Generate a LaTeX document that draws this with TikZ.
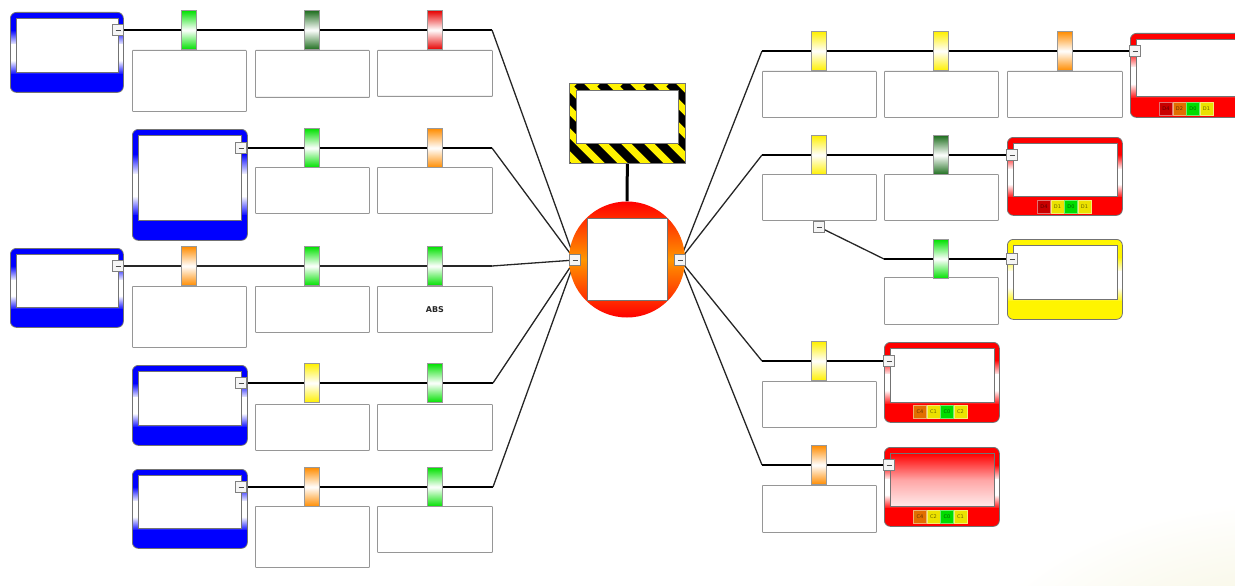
\documentclass[tikz,border=0pt]{standalone}
\usepackage{fontspec}
\usetikzlibrary{calc}
\newfontfamily\dejavu{DejaVu Sans}
\definecolor{bblue}{RGB}{0,0,255}
\definecolor{rred}{RGB}{255,0,0}
\definecolor{yyel}{RGB}{255,245,0}
\definecolor{tgreen}{RGB}{0,225,0}
\definecolor{tdgreen}{RGB}{30,110,30}
\definecolor{tred}{RGB}{230,0,0}
\definecolor{torange}{RGB}{255,140,0}
\definecolor{tyellow}{RGB}{255,240,0}
\definecolor{hubor}{RGB}{255,150,0}
\definecolor{frm}{RGB}{115,115,115}
\definecolor{lblgray}{RGB}{150,150,150}
\definecolor{glowc}{RGB}{243,241,212}
\definecolor{bdred}{RGB}{200,0,0}
\definecolor{bdor}{RGB}{225,110,0}
\definecolor{bdgr}{RGB}{0,220,0}
\definecolor{bdye}{RGB}{235,225,0}
\pgfdeclarelayer{glowl}
\pgfdeclarelayer{wires}
\pgfsetlayers{glowl,wires,main}
\tikzset{
  fbox/.style={draw=frm, line width=0.8pt, rounded corners=6pt, anchor=north west, inner sep=0pt,
    path picture={
      \begin{scope}[sharp corners]
      \coordinate (PNW) at (path picture bounding box.north west);
      \coordinate (PNE) at (path picture bounding box.north east);
      \coordinate (PSW) at (path picture bounding box.south west);
      \coordinate (PSE) at (path picture bounding box.south east);
      \fill[#1] (PNW) rectangle ($(PNE)!0.23!(PSE)$);
      \shade[top color=#1, bottom color=white] ($(PNW)!0.22!(PSW)$) rectangle ($(PNE)!0.41!(PSE)$);
      \fill[white] ($(PNW)!0.40!(PSW)$) rectangle ($(PNE)!0.61!(PSE)$);
      \shade[top color=white, bottom color=#1] ($(PNW)!0.60!(PSW)$) rectangle ($(PNE)!0.78!(PSE)$);
      \fill[#1] ($(PNW)!0.77!(PSW)$) rectangle (PSE);
      \end{scope}
    }},
  inwin/.style={draw=frm, line width=0.8pt, fill=white, anchor=north west, inner sep=0pt},
  lbl/.style={draw=lblgray, line width=0.8pt, fill=white, anchor=north west, inner sep=0pt, rounded corners=0.6pt},
  tabbox/.style={draw=black!40, line width=0.7pt, minimum width=15pt, minimum height=39pt, inner sep=0pt, top color=#1, bottom color=#1, middle color=white},
  minusbtn/.style={draw=gray, fill=gray!8, line width=0.7pt, minimum size=11pt, inner sep=0pt,
    path picture={\draw[black!70, line width=0.9pt] ([xshift=-2.5pt]path picture bounding box.center) -- ([xshift=2.5pt]path picture bounding box.center);}},
  hwire/.style={line width=2.6pt, black},
  twire/.style={line width=1.4pt, black!85},
  dwire/.style={line width=1.3pt, black!85},
  badge/.style={minimum width=13pt, minimum height=13pt, inner sep=0pt, font=\dejavu\fontsize{5}{5}\selectfont, draw=#1!55!white, fill=#1, text=#1!45!black},
}
\begin{document}
\begin{tikzpicture}[x=1pt,y=-1pt]
\path[use as bounding box] (0,0) rectangle (1235,586);
\begin{pgfonlayer}{glowl}
\shade[inner color=glowc, outer color=white] (1300,670) ellipse (330pt and 170pt);
\end{pgfonlayer}

% ---------- centre ----------
\node[draw=frm, line width=0.8pt, fill=yellow, anchor=north west, inner sep=0pt, minimum width=116pt, minimum height=80pt,
  path picture={\foreach \s in {-130,-107,...,150} {\draw[black, line width=8.5pt] ([xshift=\s pt]path picture bounding box.north west) -- ++(110pt,-110pt);}}] (haz) at (569,83) {};
\node[inwin, minimum width=102pt, minimum height=53pt] (hazw) at (576,90) {};
\node[circle, minimum size=116pt, inner sep=0pt, top color=rred, bottom color=rred, middle color=hubor] (hub) at (627,259.5) {};
\node[inwin, minimum width=80pt, minimum height=82pt] (hubw) at (587,218) {};
\node[minusbtn] (hl) at (575,260) {};
\node[minusbtn] (hr) at (680,260) {};

% ---------- left rows ----------
% row 1
\node[fbox=bblue, minimum width=113pt, minimum height=80pt] (b1) at (10,12) {};
\node[inwin, minimum width=102pt, minimum height=54pt] (b1w) at (16,18) {};
\node[minusbtn] (m1) at (118,30) {};
\node[lbl, minimum width=114pt, minimum height=61pt] (l11) at (132,50) {};
\node[lbl, minimum width=114pt, minimum height=47pt] (l12) at (255,50) {};
\node[lbl, minimum width=115pt, minimum height=46pt] (l13) at (377,50) {};
\node[tabbox=tgreen] (t11) at (189,30) {};
\node[tabbox=tdgreen] (t12) at (312,30) {};
\node[tabbox=tred] (t13) at (435,30) {};
\coordinate (k1) at (492,30);
% row 2
\node[fbox=bblue, minimum width=115pt, minimum height=111pt] (b2) at (132,129) {};
\node[inwin, minimum width=103pt, minimum height=85pt] (b2w) at (138,135) {};
\node[minusbtn] (m2) at (241,148) {};
\node[lbl, minimum width=114pt, minimum height=46pt] (l22) at (255,167) {};
\node[lbl, minimum width=115pt, minimum height=46pt] (l23) at (377,167) {};
\node[tabbox=tgreen] (t22) at (312,148) {};
\node[tabbox=torange] (t23) at (435,148) {};
\coordinate (k2) at (492,148);
% row 3
\node[fbox=bblue, minimum width=113pt, minimum height=79pt] (b3) at (10,248) {};
\node[inwin, minimum width=102pt, minimum height=53pt] (b3w) at (16,254) {};
\node[minusbtn] (m3) at (118,266) {};
\node[lbl, minimum width=114pt, minimum height=61pt] (l31) at (132,286) {};
\node[lbl, minimum width=114pt, minimum height=46pt] (l32) at (255,286) {};
\node[lbl, minimum width=115pt, minimum height=46pt, font=\dejavu\bfseries\fontsize{8}{9}\selectfont, text=black!85] (l33) at (377,286) {ABS};
\node[tabbox=torange] (t31) at (189,266) {};
\node[tabbox=tgreen] (t32) at (312,266) {};
\node[tabbox=tgreen] (t33) at (435,266) {};
\coordinate (k3) at (492,266);
% row 4
\node[fbox=bblue, minimum width=115pt, minimum height=80pt] (b4) at (132,365) {};
\node[inwin, minimum width=103pt, minimum height=54pt] (b4w) at (138,371) {};
\node[minusbtn] (m4) at (241,383) {};
\node[lbl, minimum width=114pt, minimum height=46pt] (l42) at (255,404) {};
\node[lbl, minimum width=115pt, minimum height=46pt] (l43) at (377,404) {};
\node[tabbox=tyellow] (t42) at (312,383) {};
\node[tabbox=tgreen] (t43) at (435,383) {};
\coordinate (k4) at (493,383);
% row 5
\node[fbox=bblue, minimum width=115pt, minimum height=79pt] (b5) at (132,469) {};
\node[inwin, minimum width=103pt, minimum height=53pt] (b5w) at (138,475) {};
\node[minusbtn] (m5) at (241,487) {};
\node[lbl, minimum width=114pt, minimum height=61pt] (l52) at (255,506) {};
\node[lbl, minimum width=115pt, minimum height=46pt] (l53) at (377,506) {};
\node[tabbox=torange] (t52) at (312,487) {};
\node[tabbox=tgreen] (t53) at (435,487) {};
\coordinate (k5) at (493,487);

% ---------- right rows ----------
% R1
\node[fbox=rred, minimum width=115pt, minimum height=84pt] (r1) at (1130,33) {};
\node[inwin, minimum width=104pt, minimum height=57pt] (r1w) at (1136,39) {};
\node[minusbtn] (rm1) at (1135,51) {};
\node[badge=bdred] (r1a) at (1166,108.5) {D4};
\node[badge=bdor] (r1b) at (1179.5,108.5) {D2};
\node[badge=bdgr] (r1c) at (1193,108.5) {D0};
\node[badge=bdye] (r1d) at (1206.5,108.5) {D1};
\node[lbl, minimum width=114pt, minimum height=46pt] (q11) at (762,71) {};
\node[lbl, minimum width=114pt, minimum height=46pt] (q12) at (884,71) {};
\node[lbl, minimum width=115pt, minimum height=46pt] (q13) at (1007,71) {};
\node[tabbox=tyellow] (s11) at (819,51) {};
\node[tabbox=tyellow] (s12) at (941,51) {};
\node[tabbox=torange] (s13) at (1065,51) {};
\coordinate (rk1) at (762,51);
% R2
\node[fbox=rred, minimum width=115pt, minimum height=78pt] (r2) at (1007,137) {};
\node[inwin, minimum width=104pt, minimum height=53pt] (r2w) at (1013,143) {};
\node[minusbtn] (rm2) at (1012,155) {};
\node[badge=bdred] (r2a) at (1044,206.5) {D4};
\node[badge=bdye] (r2b) at (1057.5,206.5) {D1};
\node[badge=bdgr] (r2c) at (1071,206.5) {D0};
\node[badge=bdye] (r2d) at (1084.5,206.5) {D1};
\node[lbl, minimum width=114pt, minimum height=46pt] (q21) at (762,174) {};
\node[lbl, minimum width=114pt, minimum height=46pt] (q22) at (884,174) {};
\node[tabbox=tyellow] (s21) at (819,155) {};
\node[tabbox=tdgreen] (s22) at (941,155) {};
\coordinate (rk2) at (762,155);
\node[minusbtn] (sb) at (819,227) {};
\coordinate (sk) at (884,259);
\node[fbox=yyel, minimum width=115pt, minimum height=80pt] (y1) at (1007,239) {};
\node[inwin, minimum width=104pt, minimum height=54pt] (y1w) at (1013,245) {};
\node[minusbtn] (ym) at (1012,259) {};
\node[lbl, minimum width=114pt, minimum height=47pt] (q31) at (884,277) {};
\node[tabbox=tgreen] (s31) at (941,259) {};
% R3
\node[fbox=rred, minimum width=115pt, minimum height=80pt] (r3) at (884,342) {};
\node[inwin, minimum width=104pt, minimum height=54pt] (r3w) at (890,348) {};
\node[minusbtn] (rm3) at (889,361) {};
\node[badge=bdor] (r3a) at (920,412) {C4};
\node[badge=bdye] (r3b) at (933.5,412) {C1};
\node[badge=bdgr] (r3c) at (947,412) {C0};
\node[badge=bdye] (r3d) at (960.5,412) {C2};
\node[lbl, minimum width=114pt, minimum height=46pt] (q41) at (762,381) {};
\node[tabbox=tyellow] (s41) at (819,361) {};
\coordinate (rk3) at (762,361);
% R4
\node[fbox=rred, minimum width=115pt, minimum height=79pt] (r4) at (884,447) {};
\node[inwin, minimum width=104pt, minimum height=53pt, fill=none, top color=rred, bottom color=rred!8!white, middle color=rred!35!white] (r4w) at (890,453) {};
\node[minusbtn] (rm4) at (889,465) {};
\node[badge=bdor] (r4a) at (920,517) {C4};
\node[badge=bdye] (r4b) at (933.5,517) {C2};
\node[badge=bdgr] (r4c) at (947,517) {C0};
\node[badge=bdye] (r4d) at (960.5,517) {C1};
\node[lbl, minimum width=114pt, minimum height=47pt] (q51) at (762,485) {};
\node[tabbox=torange] (s51) at (819,465) {};
\coordinate (rk4) at (762,465);

% ---------- wires ----------
\begin{pgfonlayer}{wires}
\draw[line width=3pt] (haz) -- (hub);
\draw[hwire] (m1.center) -- (k1); \draw[dwire] (k1) -- (hl.center);
\draw[hwire] (m2.center) -- (k2); \draw[dwire] (k2) -- (hl.center);
\draw[twire] (m3.center) -- (k3); \draw[dwire] (k3) -- (hl.center);
\draw[hwire] (m4.center) -- (k4); \draw[dwire] (k4) -- (hl.center);
\draw[hwire] (m5.center) -- (k5); \draw[dwire] (k5) -- (hl.center);
\draw[dwire] (hr.center) -- (rk1); \draw[hwire] (rk1) -- (rm1.center);
\draw[dwire] (hr.center) -- (rk2); \draw[hwire] (rk2) -- (rm2.center);
\draw[dwire] (hr.center) -- (rk3); \draw[hwire] (rk3) -- (rm3.center);
\draw[dwire] (hr.center) -- (rk4); \draw[hwire] (rk4) -- (rm4.center);
\draw[dwire] (sb.center) -- (sk); \draw[hwire] (sk) -- (ym.center);
\end{pgfonlayer}
\end{tikzpicture}
\end{document}
